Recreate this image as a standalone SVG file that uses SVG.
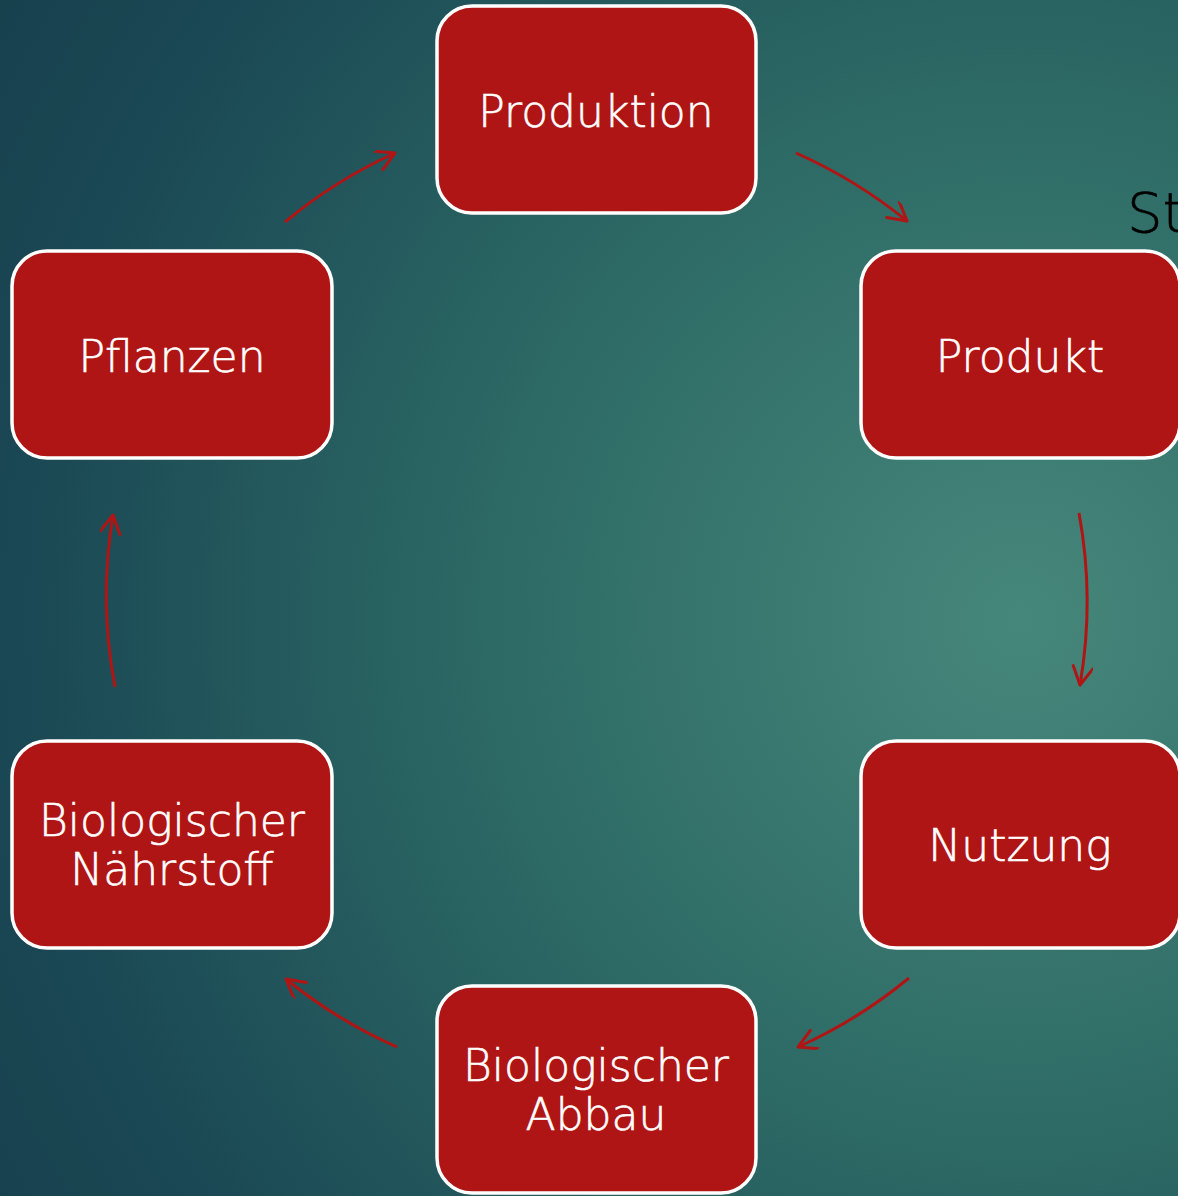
<svg xmlns="http://www.w3.org/2000/svg" width="1178" height="1196" viewBox="0 0 1178 1196">
<defs>
<radialGradient id="bg" gradientUnits="userSpaceOnUse" cx="1020" cy="620" r="1250">
<stop offset="0" stop-color="#46877b"/>
<stop offset="0.4" stop-color="#2e6b66"/>
<stop offset="0.8" stop-color="#1a4854"/>
<stop offset="1" stop-color="#163e4b"/>
</radialGradient>
<marker id="ah" markerUnits="userSpaceOnUse" markerWidth="30" markerHeight="30" refX="20" refY="10" orient="auto" viewBox="0 0 30 30">
<path d="M2,0 L20,10 L2,20" fill="none" stroke="#b01515" stroke-width="3" stroke-linecap="round" stroke-linejoin="round"/>
</marker>
<style>
.box{fill:#b01515;stroke:#ffffff;stroke-width:3.5}
.lbl{font-family:"DejaVu Sans","Liberation Sans",Arial,sans-serif;font-weight:200;font-size:44px;fill:#ffffff;stroke:#ffffff;stroke-width:0.6;text-anchor:middle}
.arr{fill:none;stroke:#b01515;stroke-width:3;marker-end:url(#ah)}
</style>
</defs>
<rect x="0" y="0" width="1178" height="1196" fill="url(#bg)"/>
<text x="1127" y="232" font-family="'DejaVu Sans','Liberation Sans',Arial,sans-serif" font-weight="200" font-size="56" fill="#000000" stroke="#000000" stroke-width="0.6">Ste</text>
<g id="connectors">
<path class="arr" d="M285,222 A490,490 0 0 1 395,153"/>
<path class="arr" d="M796,153 A490,490 0 0 1 907,221"/>
<path class="arr" d="M1079,513 A490,490 0 0 1 1080,685"/>
<path class="arr" d="M909,978 A490,490 0 0 1 798,1047"/>
<path class="arr" d="M397,1047 A490,490 0 0 1 286,979"/>
<path class="arr" d="M115,687 A490,490 0 0 1 113,515"/>
</g>
<g id="produktion">
<rect class="box" x="437" y="6" width="319" height="207" rx="35"/>
<text class="lbl" x="596" y="127">Produktion</text>
</g>
<g id="produkt">
<rect class="box" x="861" y="251" width="319" height="207" rx="35"/>
<text class="lbl" x="1020" y="372">Produkt</text>
</g>
<g id="nutzung">
<rect class="box" x="861" y="741" width="319" height="207" rx="35"/>
<text class="lbl" x="1020" y="861">Nutzung</text>
</g>
<g id="abbau">
<rect class="box" x="437" y="986" width="319" height="207" rx="35"/>
<text class="lbl" x="596" y="1081">Biologischer</text>
<text class="lbl" x="596" y="1130">Abbau</text>
</g>
<g id="naehrstoff">
<rect class="box" x="12" y="741" width="320" height="207" rx="35"/>
<text class="lbl" x="172" y="836">Biologischer</text>
<text class="lbl" x="172" y="885">Nährstoff</text>
</g>
<g id="pflanzen">
<rect class="box" x="12" y="251" width="320" height="207" rx="35"/>
<text class="lbl" x="172" y="372">Pflanzen</text>
</g>
</svg>
